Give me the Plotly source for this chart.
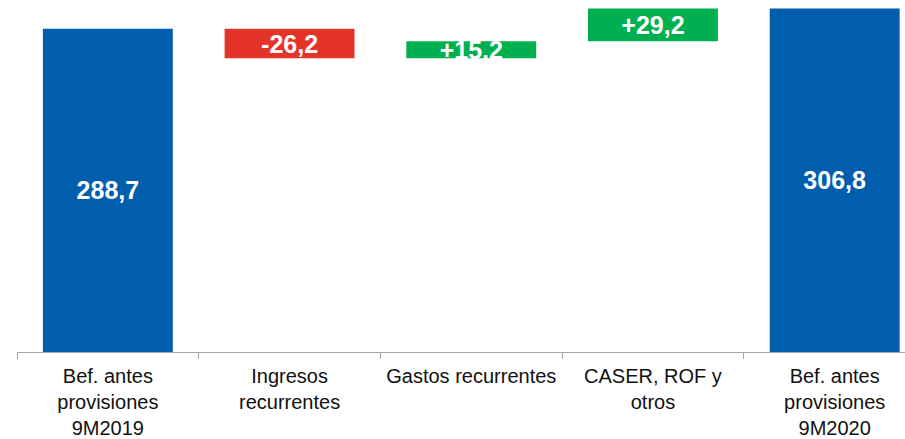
import plotly.graph_objects as go

categories = [
    "Bef. antes<br>provisiones<br>9M2019",
    "Ingresos<br>recurrentes",
    "Gastos recurrentes",
    "CASER, ROF y<br>otros",
    "Bef. antes<br>provisiones<br>9M2020",
]
measures = ["absolute", "relative", "relative", "relative", "total"]
values = [288.7, -26.2, 15.2, 29.2, 0]
value_labels = ["288,7", "-26,2", "+15,2", "+29,2", "306,8"]

BLUE = "#005EAD"
GREEN = "#00B050"
RED = "#E4342A"
FONT = "Liberation Sans, Arial, sans-serif"

fig = go.Figure(
    go.Waterfall(
        x=categories,
        y=values,
        measure=measures,
        text=["<b>" + t + "</b>" for t in value_labels],
        textposition="inside",
        insidetextanchor="middle",
        textfont=dict(family=FONT, size=25, color="white"),
        insidetextfont=dict(family=FONT, size=25, color="white"),
        increasing=dict(marker=dict(color=GREEN)),
        decreasing=dict(marker=dict(color=RED)),
        totals=dict(marker=dict(color=BLUE)),
        connector=dict(visible=False),
        cliponaxis=False,
        hoverinfo="skip",
    )
)

fig.update_layout(
    width=905,
    height=439,
    margin=dict(l=17, r=0, t=5, b=84),
    paper_bgcolor="white",
    plot_bgcolor="white",
    showlegend=False,
    waterfallgap=0.285,
    uniformtext=dict(minsize=25, mode="show"),
    font=dict(family=FONT, color="#111111"),
)
fig.update_xaxes(
    range=[-0.5, 4.387],
    showline=True,
    linecolor="#A6A6A6",
    linewidth=1,
    ticks="outside",
    tickson="boundaries",
    ticklen=6,
    tickcolor="#A6A6A6",
    showgrid=False,
    ticklabelstandoff=6,
    tickfont=dict(family=FONT, size=20, color="#111111"),
)
fig.update_yaxes(range=[0, 310], visible=False, showgrid=False, zeroline=False)

fig.write_html(
    "out.html",
    config={"displayModeBar": False, "staticPlot": True},
    post_script="document.body.style.margin='0';document.body.style.padding='0';",
)
